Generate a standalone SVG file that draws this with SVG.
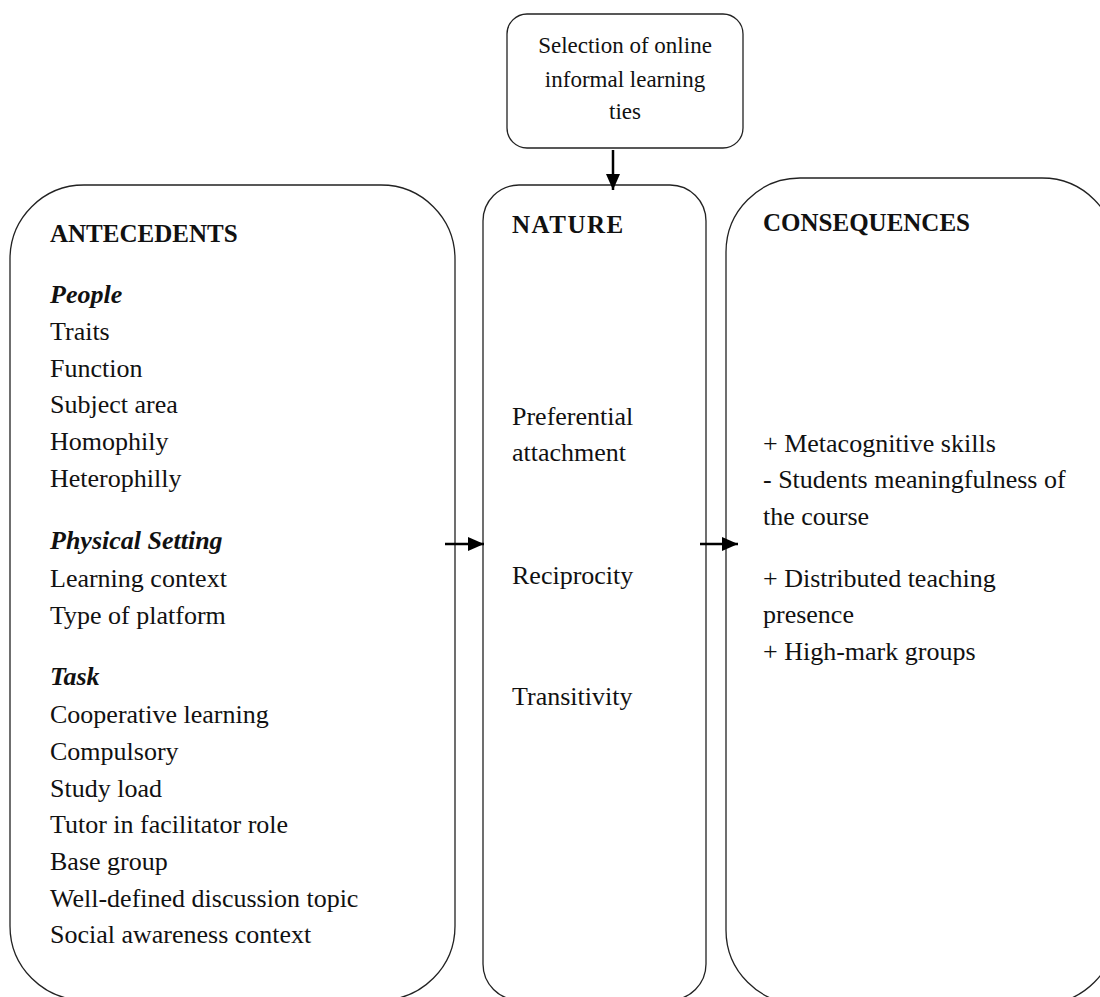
<svg xmlns="http://www.w3.org/2000/svg" width="1100" height="997" viewBox="0 0 1100 997">
<style>
.box{fill:#fff;stroke:#222;stroke-width:1.3}
.t{font-family:"Liberation Serif","Times New Roman",serif;font-size:26px;fill:#111}
.h{font-family:"Liberation Serif","Times New Roman",serif;font-size:25px;font-weight:bold;fill:#111}
.s{font-family:"Liberation Serif","Times New Roman",serif;font-size:26px;font-weight:bold;font-style:italic;fill:#111}
.top{font-family:"Liberation Serif","Times New Roman",serif;font-size:23px;fill:#111;text-anchor:middle}
.arr{stroke:#000;stroke-width:2.5;fill:none}
</style>
<defs>
<marker id="ah" markerUnits="userSpaceOnUse" markerWidth="17" markerHeight="15" refX="16" refY="7" orient="auto">
<path d="M0,0 L16,7 L0,14 z" fill="#000"/>
</marker>
</defs>
<rect width="1100" height="997" fill="#fff"/>
<g id="selection">
<rect class="box" x="507" y="14" width="236" height="134" rx="20"/>
<text class="top" x="625" y="53">Selection of online</text>
<text class="top" x="625" y="87">informal learning</text>
<text class="top" x="625" y="119">ties</text>
</g>
<g id="antecedents">
<rect class="box" x="10" y="185" width="445" height="815" rx="74"/>
<text class="h" x="50" y="242">ANTECEDENTS</text>
<text class="s" x="50" y="303">People</text>
<text class="t" x="50" y="340">Traits</text>
<text class="t" x="50" y="377">Function</text>
<text class="t" x="50" y="413">Subject area</text>
<text class="t" x="50" y="450">Homophily</text>
<text class="t" x="50" y="487">Heterophilly</text>
<text class="s" x="50" y="549">Physical Setting</text>
<text class="t" x="50" y="587">Learning context</text>
<text class="t" x="50" y="624">Type of platform</text>
<text class="s" x="50" y="685">Task</text>
<text class="t" x="50" y="723">Cooperative learning</text>
<text class="t" x="50" y="760">Compulsory</text>
<text class="t" x="50" y="797">Study load</text>
<text class="t" x="50" y="833">Tutor in facilitator role</text>
<text class="t" x="50" y="870">Base group</text>
<text class="t" x="50" y="907">Well-defined discussion topic</text>
<text class="t" x="50" y="943">Social awareness context</text>
</g>
<g id="nature">
<rect class="box" x="483" y="185" width="223" height="815" rx="36"/>
<text class="h" x="512" y="233" letter-spacing="1.5">NATURE</text>
<text class="t" x="512" y="425">Preferential</text>
<text class="t" x="512" y="461">attachment</text>
<text class="t" x="512" y="584">Reciprocity</text>
<text class="t" x="512" y="705">Transitivity</text>
</g>
<g id="consequences">
<rect class="box" x="726" y="178" width="390" height="826" rx="74"/>
<text class="h" x="763" y="231">CONSEQUENCES</text>
<text class="t" x="763" y="452">+ Metacognitive skills</text>
<text class="t" x="763" y="488">- Students meaningfulness of</text>
<text class="t" x="763" y="525">the course</text>
<text class="t" x="763" y="587">+ Distributed teaching</text>
<text class="t" x="763" y="623">presence</text>
<text class="t" x="763" y="660">+ High-mark groups</text>
</g>
<g id="connectors">
<line class="arr" x1="613" y1="150" x2="613" y2="190" marker-end="url(#ah)"/>
<line class="arr" x1="445" y1="544" x2="484" y2="544" marker-end="url(#ah)"/>
<line class="arr" x1="700" y1="544" x2="738" y2="544" marker-end="url(#ah)"/>
</g>
</svg>
